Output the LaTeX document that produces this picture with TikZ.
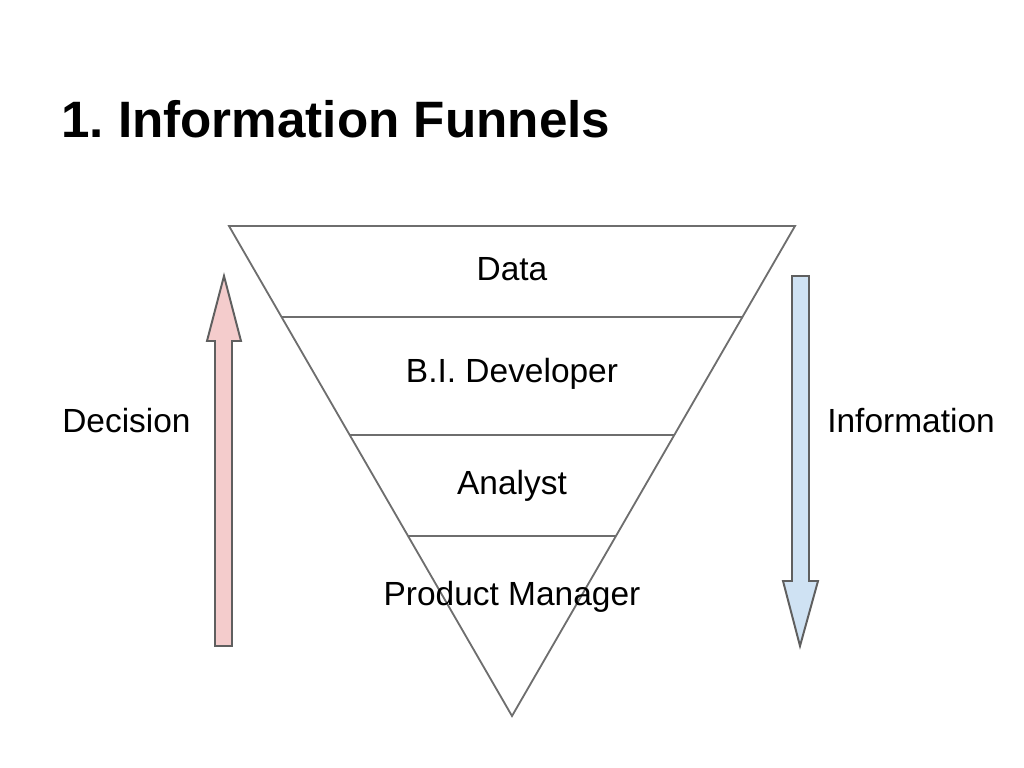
\documentclass[tikz,border=0pt]{standalone}
\usepackage{fontspec}
\setmainfont{Liberation Sans}
\usetikzlibrary{calc}
\definecolor{decfill}{HTML}{F4CCCC}
\definecolor{infofill}{HTML}{CFE2F3}
\definecolor{edgegray}{HTML}{6E6E6E}
\definecolor{arrgray}{HTML}{5F5F5F}
\frenchspacing
\tikzset{
  funnel/.style={draw=edgegray, line width=1.3pt, line join=miter},
  layer/.style={anchor=base, inner sep=0pt, font=\fontsize{23.8}{28}\selectfont},
  side/.style={anchor=base, inner sep=0pt, font=\fontsize{23.8}{28}\selectfont},
  bigarrow/.style={draw=arrgray, line width=1.4pt, line join=miter},
}

\begin{document}
\begin{tikzpicture}[x=0.025cm, y=-0.025cm]
\useasboundingbox (0,0) rectangle (1024,768);

% title
\node[anchor=base west, inner sep=0pt, font=\fontsize{36.4}{40}\selectfont\bfseries] (title) at (61,138) {1. Information Funnels};

% funnel corners
\coordinate (tl) at (229,226);
\coordinate (tr) at (795,226);
\coordinate (tip) at (512,716);
\draw[funnel] (tl) -- (tr) -- (tip) -- cycle;

% layer borders
\foreach \y/\nm in {317/a, 435/b, 536/c} {
  \draw[funnel] ($(tl)!{(\y-226)/490}!(tip)$) coordinate (\nm l) -- ($(tr)!{(\y-226)/490}!(tip)$) coordinate (\nm r);
}

\node[layer] (data) at (512,280) {Data};
\node[layer] (bidev) at (512,382) {B.I. Developer};
\node[layer] (analyst) at (512,494) {Analyst};
\node[layer] (pm) at (512,605) {Product Manager};

% decision arrow (up)
\draw[bigarrow, fill=decfill] (215,646) -- (215,341) -- (207,341) -- (224,276) -- (241,341) -- (232,341) -- (232,646) -- cycle;
\node[side, anchor=base west] (decision) at (62,432) {Decision};

% information arrow (down)
\draw[bigarrow, fill=infofill] (792,276) -- (809,276) -- (809,581) -- (818,581) -- (800,646) -- (783,581) -- (792,581) -- cycle;
\node[side, anchor=base east] (information) at (995,432) {Information};
\end{tikzpicture}
\end{document}
